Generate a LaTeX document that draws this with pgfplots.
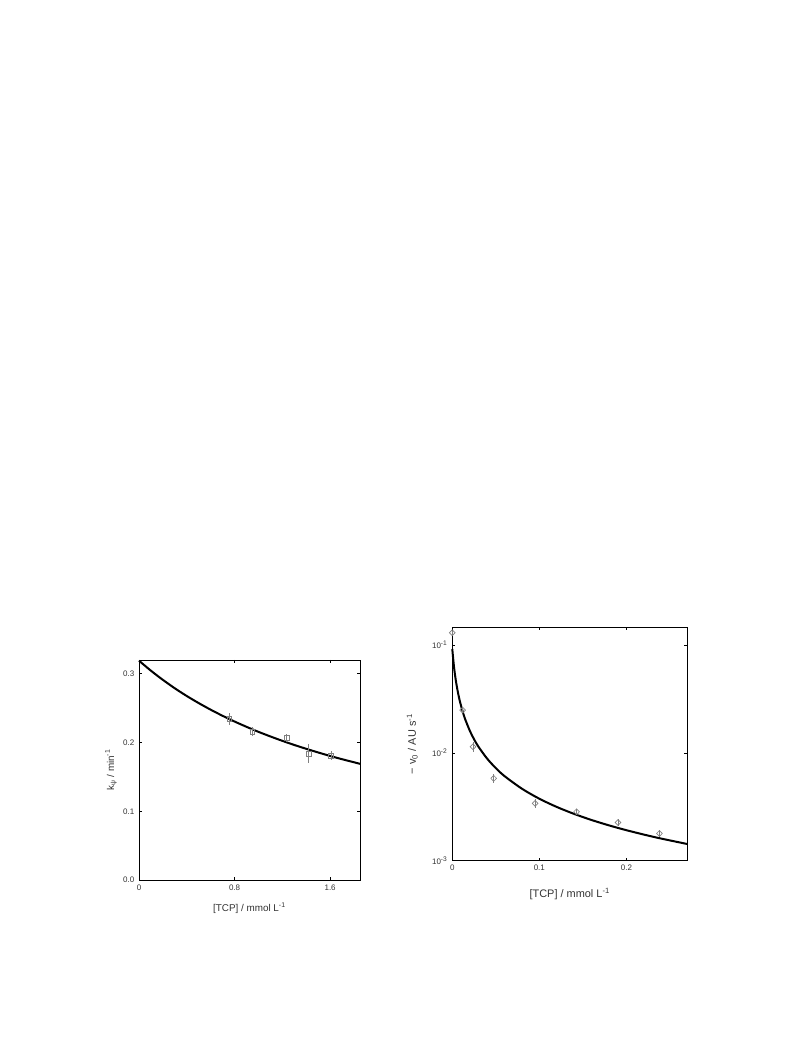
\documentclass[border=0pt]{standalone}
\usepackage{fontspec}
\setmainfont{Liberation Sans}
\usepackage{pgfplots}
\pgfplotsset{compat=1.18}
\pgfplotsset{
  myaxis/.style={
    scale only axis,
    anchor=south west,
    tick align=inside,
    major tick length=2.2pt,
    tick style={black, line width=0.4pt},
    axis line style={line width=0.7pt},
    /pgf/number format/assume math mode=true,
    ticklabel style={font=\fontsize{6}{7}\selectfont, text=black!80},
    clip=false,
  }
}
\begin{document}
\begin{tikzpicture}[x=1pt,y=1pt]
\useasboundingbox (0,0) rectangle (594,792);
% left panel
\begin{axis}[myaxis,
  at={(104.25pt,132pt)}, width=165.75pt, height=165pt,
  xmin=0, xmax=1.85, ymin=0, ymax=0.32,
  xtick={0,0.8,1.6}, xticklabels={0,0.8,1.6},
  ytick={0,0.1,0.2,0.3}, yticklabels={0.0,0.1,0.2,0.3},
  label style={font=\fontsize{7.4}{8.5}\selectfont, text=black!80},
  xlabel style={at={(axis description cs:0.5,0)}, anchor=base, yshift=-23.8pt},
  ylabel style={at={(axis description cs:0,0.5)}, anchor=center, yshift=21pt},
  xlabel={[TCP] / mmol L\textsuperscript{-1}},
  ylabel={k\textsubscript{ψ} / min\textsuperscript{-1}},
]
\addplot[black, line width=1.5pt, smooth] coordinates {
 (0,0.319) (0.1,0.3044) (0.2,0.2911) (0.3,0.2788) (0.4,0.2676) (0.5,0.2573)
 (0.6,0.2477) (0.7,0.2388) (0.8,0.2305) (0.9,0.2228) (1.0,0.2155) (1.1,0.2088)
 (1.2,0.2024) (1.3,0.1964) (1.4,0.1908) (1.5,0.1855) (1.6,0.1804) (1.7,0.1757)
 (1.85,0.1690)};
\addplot[only marks, mark=square, mark size=1.8pt, gray, mark options={line width=0.5pt},
  error bars/.cd, y dir=both, y explicit, error mark=none,
  error bar style={gray, line width=0.5pt}]
  coordinates {
 (0.756,0.234) +- (0,0.0085)
 (0.949,0.216) +- (0,0.007)
 (1.237,0.207) +- (0,0.006)
 (1.42,0.184) +- (0,0.014)
 (1.606,0.181) +- (0,0.006)
};
\end{axis}
% right panel
\begin{axis}[myaxis,
  at={(339.2pt,146.5pt)}, width=176.3pt, height=175pt,
  ymode=log,
  xmin=0, xmax=0.27, ymin=0.001, ymax=0.146,
  xtick={0,0.1,0.2}, xticklabels={0,0.1,0.2},
  ytick={0.001,0.01,0.1},
  yticklabels={10\textsuperscript{-3},10\textsuperscript{-2},10\textsuperscript{-1}},
  yminorticks=false,
  label style={font=\fontsize{8.2}{9.5}\selectfont, text=black!80},
  xlabel style={at={(axis description cs:0.5,0)}, anchor=base, yshift=-27.8pt},
  ylabel style={at={(axis description cs:0,0.5)}, anchor=center, yshift=30pt},
  xlabel={[TCP] / mmol L\textsuperscript{-1}},
  ylabel={− v\textsubscript{0} / AU s\textsuperscript{-1}},
]
\addplot[black, line width=1.5pt, smooth] coordinates {
 (0,0.092) (0.002,0.0626) (0.004,0.0474) (0.006,0.0382) (0.008,0.0319)
 (0.01,0.0275) (0.0125,0.02337) (0.015,0.02033) (0.02,0.01614) (0.025,0.01338)
 (0.03,0.01143) (0.04,0.00885) (0.05,0.00722) (0.06,0.00609) (0.08,0.00465)
 (0.1,0.003755) (0.12,0.00315) (0.14,0.002714) (0.16,0.002383) (0.18,0.002125)
 (0.2,0.001917) (0.22,0.001746) (0.24,0.001603) (0.27,0.001427)};
\addplot[only marks, mark=diamond, mark size=2.2pt, gray, mark options={line width=0.5pt, xscale=1.3},
  error bars/.cd, y dir=both, y explicit, error mark=none,
  error bar style={gray, line width=0.5pt}]
  coordinates {
 (0,0.130) +- (0,0.005)
 (0.0119,0.0249) +- (0,0.0015)
 (0.0238,0.0114) +- (0,0.0012)
 (0.0476,0.0058) +- (0,0.0006)
 (0.0952,0.0034) +- (0,0.0003)
 (0.1428,0.00284) +- (0,0.0002)
 (0.1904,0.00226) +- (0,0.00017)
 (0.238,0.00179) +- (0,0.00012)
};
\end{axis}
\end{tikzpicture}
\end{document}
